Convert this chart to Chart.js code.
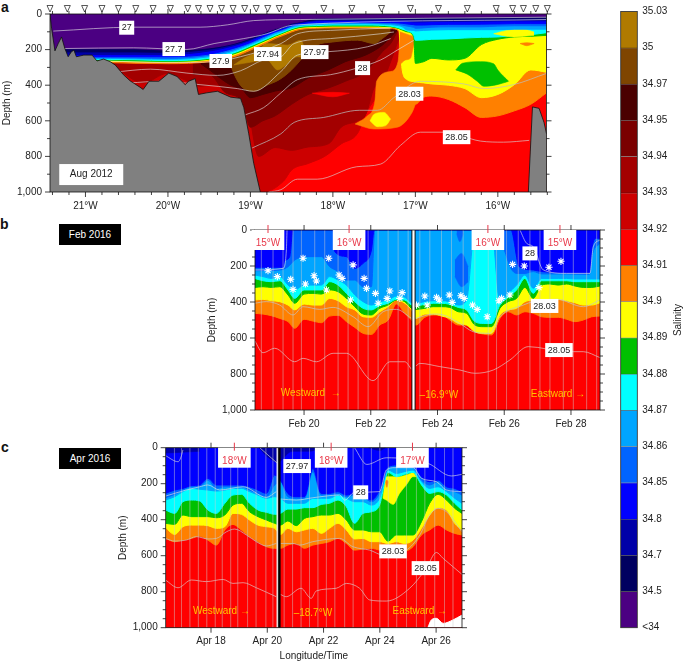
<!DOCTYPE html>
<html><head><meta charset="utf-8">
<script src="https://cdn.jsdelivr.net/npm/chart.js@4"></script>
<style>
html,body{margin:0;padding:0;background:#fff;width:685px;height:662px;overflow:hidden}
canvas{position:absolute}
.t{position:absolute;font-family:"Liberation Sans",Arial,sans-serif}
.l{font-weight:bold;font-size:14px;color:#111;line-height:14px}
.k{background:#000;color:#fff;font-size:10px;text-align:center;line-height:21px;width:62px;height:21px}
</style></head><body>
<div class="t l" style="left:1px;top:0">a</div>
<div class="t l" style="left:0;top:217px">b</div>
<div class="t l" style="left:1px;top:440px">c</div>
<div class="t k" style="left:59px;top:224px">Feb 2016</div>
<div class="t k" style="left:59px;top:448px">Apr 2016</div>
<canvas id="ca"></canvas><canvas id="cb"></canvas><canvas id="cc"></canvas><canvas id="cs"></canvas>
<script>
// ---------- colour key
const salinityLabels=["35.03","35","34.97","34.95","34.94","34.93","34.92","34.91","34.9","34.89","34.88","34.87","34.86","34.85","34.8","34.7","34.5","<34"];
const C={gold:"#B07A00",brown:"#7F4500",d1:"#4A0000",d2:"#7A0000",d3:"#A30000",d4:"#CC0000",red:"#FF0000",orange:"#FF8000",yellow:"#FFFF00",green:"#00C000",cyan:"#00FFFF",lblue:"#00A5FF",mblue:"#0064FF",blue:"#0000FF",navy:"#0000A8",dark:"#000060",purple:"#4B0082"};
const bandColors=[C.gold,C.brown,C.d1,C.d2,C.d3,C.d4,C.red,C.orange,C.yellow,C.green,C.cyan,C.lblue,C.mblue,C.blue,C.navy,C.dark,C.purple];

// ---------- panel a: longitude (negative = W), depth (m)
const stationsA=[-21.43,-21.22,-21.01,-20.8,-20.6,-20.39,-20.18,-19.97,-19.76,-19.63,-19.49,-19.35,-19.21,-19.07,-18.93,-18.79,-18.65,-18.45,-18.11,-17.77,-17.41,-17.06,-16.72,-16.37,-16.02,-15.82,-15.69,-15.54,-15.4];
const lonA=[-21.43,-21,-20.7,-20.4,-20,-19.5,-19.2,-19,-18.85,-18.7,-18.6,-18.5,-18.4,-18.2,-18,-17.6,-17.3,-17.2,-17.16,-17.1,-17.02,-17,-16.9,-16.8,-16.6,-16.4,-16.2,-16,-15.8,-15.6,-15.41];
const aOrange=[272,272,273,277,279,268,240,203,172,138,120,101,87,80,78,78,82,95,489,489,500,507,467,461,480,526,581,572,544,507,443];
const aYellow=[265,265,265,268,270,258,230,193,162,129,111,92,80,74,72,72,76,88,314,369,380,382,387,393,400,419,470,452,397,314,327];
const aGreen=[261,261,261,264,266,254,224,187,156,125,107,88,76,70,68,68,72,82,90,100,130,277,268,249,258,249,172,142,129,125,120];
const aCyan=[255,255,255,257,262,249,218,180,150,120,102,83,70,65,62,62,68,78,85,95,120,148,146,142,140,135,131,129,120,116,105];
const aLBlue=[250,250,250,252,255,240,208,172,142,111,95,76,65,58,56,55,60,66,72,90,92,95,92,90,88,88,88,88,85,85,85];
const aMBlue=[245,245,245,247,250,232,200,165,135,102,88,68,60,52,50,50,54,58,62,68,75,80,78,74,72,72,72,68,66,66,66];
const aBlue=[240,240,240,240,240,225,192,160,128,100,84,66,56,48,46,46,48,50,52,56,60,62,62,60,58,58,57,56,54,54,54];
const aNavy=[228,228,228,228,228,208,178,148,118,92,78,60,50,38,36,36,37,38,38,40,44,44,44,42,41,41,40,39,38,38,38];
const aDark=[213,213,213,213,215,198,170,142,112,88,74,56,46,32,28,28,28,28,28,29,30,30,30,30,29,29,28,28,27,27,27];
const aPurple=[195,195,195,195,203,190,165,135,108,83,70,52,44,24,22,22,20,20,20,20,20,20,20,19,19,18,18,17,16,16,15];
// deep saline core
const a3492x=[-21.43,-18.85,-18.6,-18.5,-18.3,-18.1,-17.9,-17.7,-17.6,-17.4,-17.3,-17.2,-17.19];
const a3492y=[1000,1000,940,876,840,800,730,670,560,415,323,268,100];
const a3493x=[-20.75,-20.5,-20.3,-20,-19.8,-19.6,-19.5,-19.05,-18.9,-18.7,-18.5,-18.3,-18.05,-17.9,-17.7,-17.6,-17.5,-17.4,-17.3,-17.2];
const a3493y=[250,345,387,332,369,406,400,500,800,750,766,747,728,636,600,563,415,378,268,138];
const a3494x=[-19.7,-19.5,-19.3,-19.1,-19,-18.85,-18.7,-18.5,-18.3,-18.05,-17.85,-17.6,-17.4,-17.3,-17.22];
const a3494y=[340,340,443,490,636,600,572,507,452,415,378,323,212,166,100];
const a3495x=[-19.6,-19.5,-19.25,-19.1,-19,-18.85,-18.7,-18.5,-18.3,-18.05,-17.85,-17.6,-17.4,-17.3,-17.22];
const a3495y=[280,313,397,424,470,452,433,415,360,313,268,230,175,129,92];
const a3497x=[-19.28,-19.23,-19.1,-18.95,-18.8,-18.65,-18.5,-18.3,-18.2,-18,-17.7,-17.5,-17.4,-17.3];
const a3497y=[220,300,411,433,400,369,314,212,175,157,147,166,138,101];
const aGoldTopX=[-19.2,-19.08,-18.92,-18.8,-18.55,-18.39,-18.31], aGoldTopY=[286,249,212,166,175,148,249];
const aGoldBotX=[-19.2,-18.96,-18.8,-18.67,-18.59,-18.43,-18.31], aGoldBotY=[286,268,258,314,295,240,249];
const aStreakTopX=[-18.25,-18,-17.8], aStreakTopY=[445,440,445], aStreakBotY=[445,465,445];
const aLobeTopX=[-17.73,-17.58,-17.49,-17.47,-17.3,-17.21,-17.18,-17.1,-17], aLobeTopY=[618,572,489,378,323,268,120,111,120];
const aLobeBotX=[-17.73,-17.5,-17.22,-17.04,-17], aLobeBotY=[618,646,636,553,507];
const aLensTopX=[-17.55,-17.5,-17.38,-17.3], aLensTopY=[600,563,553,590];
const aLensBotX=[-17.55,-17.46,-17.36,-17.3], aLensBotY=[600,633,627,590];
const aCapTopX=[-17.19,-17], aCapTopY=[100,130];
const aCapBotX=[-17.19,-17.12,-17.06,-17.02,-17], aCapBotY=[286,258,249,175,148];
const aGreenTopX=[-16.51,-16.43,-16.21,-16.05,-16,-15.87], aGreenTopY=[314,277,268,280,315,378];
const aGreenBotX=[-16.51,-16.37,-16.25,-16.17,-16.01,-15.87], aGreenBotY=[314,338,378,406,397,378];
const aPatchTopX=[-16.05,-15.89,-15.68,-15.56], aPatchTopY=[111,92,87,101];
const aPatchBotX=[-16.05,-15.81,-15.56], aPatchBotY=[111,129,120];
const aSpotX=[-15.73,-15.65,-15.56], aSpotTopY=[166,161,166], aSpotBotY=[166,178,166];
const bathyWX=[-21.43,-21.41,-21.37,-21.33,-21.29,-21.25,-21.21,-21.17,-21.14,-21.11,-21.02,-20.92,-20.86,-20.78,-20.7,-20.64,-20.54,-20.46,-20.34,-20.3,-20.23,-20.11,-19.99,-19.89,-19.79,-19.75,-19.67,-19.63,-19.53,-19.4,-19.24,-19.12,-19.08,-19.02,-18.96,-18.88];
const bathyWY=[0,83,207,166,129,194,240,212,203,240,231,231,264,253,268,286,341,375,411,424,378,378,332,351,397,378,363,452,443,434,467,474,526,673,839,1000];
const bathyEX=[-15.63,-15.6,-15.58,-15.5,-15.44,-15.41], bathyEY=[1000,710,522,530,609,673];
const aC27X=[-21.39,-20.42,-19.61,-19.28,-18.96,-18.39,-15.4], aC27Y=[96,74,74,61,37,31,18];
const aC277X=[-21.27,-20.42,-19.77,-19.44,-19.08,-18.8,-18.55,-18.43,-15.4], aC277Y=[194,190,199,166,138,111,68,61,31];
const aC279X=[-20.74,-20.01,-19.44,-19.12,-18.63,-18.43,-18.03,-17.3], aC279Y=[264,273,268,240,166,111,92,79];
const aC2794X=[-20.66,-20.21,-19.77,-19.4,-19.12,-18.84,-18.63,-18.47,-18.03,-17.42,-17.26], aC2794Y=[327,310,332,345,319,258,240,166,138,111,101];
const aC2797X=[-20.46,-20.09,-19.61,-19.16,-18.96,-18.63,-18.43,-18.07,-17.58,-17.3], aC2797Y=[387,378,397,419,434,323,231,212,184,138];
const aC28X=[-19.06,-18.84,-18.63,-18.43,-18.03,-17.71,-17.42,-17.22,-17.02], aC28Y=[566,526,443,369,341,304,258,203,148];
const aC2803X=[-18.98,-18.63,-18.47,-18.11,-17.68,-17.46,-17.26,-16.94,-16.41,-16.17,-15.81,-15.4], aC2803Y=[753,673,609,581,541,541,470,378,393,419,397,332];
const aC2805X=[-18.78,-18.63,-18.43,-18.19,-17.71,-17.42,-17.18,-16.94,-16.65,-16.21,-15.93,-15.62], aC2805Y=[1000,987,928,928,858,843,738,664,664,714,720,710];

// ---------- panel b: day of Feb 2016, depth (m)
const daysB=[18.52,18.77,19.02,19.27,19.52,19.72,20,20.27,20.52,20.77,21.02,21.27,21.52,21.77,22.02,22.27,22.52,22.77,23.02,23.22,23.35,23.62,23.87,24.12,24.37,24.62,24.87,25.12,25.37,25.62,25.87,26.12,26.37,26.62,26.87,27.12,27.37,27.62,27.87,28.12,28.37,28.62,28.87];
const bOrange=[463,467,476,491,509,546,496,506,515,478,474,509,541,574,580,528,500,411,463,500,528,485,472,472,500,528,528,565,578,583,491,454,472,454,463,482,485,485,496,509,500,482,478];
const bYellow=[389,385,393,398,417,444,411,417,417,380,393,426,444,482,485,454,426,389,407,444,491,467,467,478,491,519,528,565,574,574,472,444,435,398,389,385,385,385,393,404,417,417,404];
const bGreen=[319,315,319,315,361,407,356,352,356,333,343,380,426,467,472,435,417,389,398,435,441,435,426,426,430,454,463,528,537,537,435,398,380,319,380,306,300,306,300,311,319,319,311];
const bCyan=[269,282,287,282,333,380,333,333,333,287,306,352,398,435,444,420,407,385,389,417,422,413,407,407,413,430,444,509,519,519,417,374,333,269,352,282,282,282,282,287,287,287,287];
const bLBlue=[250,259,269,259,306,333,306,306,306,259,278,306,361,398,417,398,389,367,374,404,407,398,393,393,398,417,389,0,0,0,398,352,306,250,324,269,269,269,269,272,272,272,272];
const bMBlueX=[18.52,19.27,19.52,19.72,20,20.52,20.77,21.02,21.27,21.52,21.77,22.02,22.12,25.77,26,26.2,26.37,26.62,26.87,27.12,27.87,28.55,28.65,28.87];
const bMBlueY=[226,222,204,167,148,148,204,231,278,278,315,315,0,0,110,213,241,241,231,244,244,246,130,74];
const bBlueX=[18.52,19.37,19.42,19.57,19.67,20.87,20.92,21.27,21.52,21.77,22.02,22.1,26.2,26.45,26.87,27.12,28.55,28.62,28.75,28.87];
const bBlueY=[207,207,172,148,0,0,120,148,213,185,111,0,0,204,222,231,238,110,46,46];
const bPatchX=[24.52,24.72,24.92], bPatchTopY=[167,130,204], bPatchBotY=[259,315,287];
const bPatch2X=[24.57,24.67,24.77], bPatch2TopY=[0,0,0], bPatch2BotY=[20,65,20];
const starsBX=[18.92,19.2,19.6,19.67,19.97,20.04,20.3,20.37,20.74,20.67,21.05,21.14,21.39,21.47,21.8,21.87,22.14,22.22,22.49,22.57,22.87,22.94,23.37,23.62,23.69,23.97,24.05,24.35,24.44,24.7,24.8,25.05,25.19,25.49,25.84,25.92,26.17,26.25,26.6,27.04,27.34,27.7];
const starsBY=[226,259,274,330,157,300,254,283,157,333,250,269,389,194,269,324,352,407,380,339,380,348,417,367,417,374,389,361,402,365,380,417,441,482,393,380,361,191,200,320,207,174];
const stationsB=[18.72,19.07,19.37,19.67,19.92,20.32,20.62,21.02,21.32,21.62,21.92,22.22,22.52,22.82,23.12,23.47,23.77,24.12,24.42,24.77,25.12,25.52,25.77,26.07,26.42,26.77,27.07,27.37,27.77,28.07,28.47,28.77];
const bC28aX=[18.52,19.37,19.47,19.49], bC28aY=[222,213,111,0];
const bC28bX=[26.47,26.67,26.87,27.17,27.87,28.57,28.67,28.87], bC28bY=[0,74,93,222,241,241,93,56];
const bC2803aX=[18.52,18.87,19.27,19.67,19.97,20.47,20.87,21.47,21.92,22.37,22.77,23.22], bC2803aY=[407,398,417,472,426,441,430,482,537,454,441,491];
const bC2803bX=[23.35,23.87,24.17,24.67,25.07,25.57,25.87,26.57,26.87,27.57,28.37,28.87], bC2803bY=[491,467,472,519,565,574,482,417,398,385,426,389];
const bC2805aX=[18.52,18.77,19.12,19.72,19.97,20.37,20.87,21.27,22.07,22.57,23.02,23.22], bC2805aY=[615,682,657,732,713,732,685,685,837,732,732,774];
const bC2805bX=[23.35,23.47,24.07,24.67,25.12,25.67,26.17,26.72,27.87,28.37,28.87], bC2805bY=[756,741,759,778,796,778,722,648,676,676,709];

// ---------- panel c: day of Apr 2016, depth (m)
const daysC=[16.38,16.71,17,17.3,17.6,17.89,18.19,18.49,18.78,19.08,19.37,19.67,19.97,20.26,20.47,20.73,21.03,21.32,21.62,21.92,22.21,22.51,22.81,23.1,23.4,23.7,23.99,24.29,24.59,24.88,25.18,25.48,25.77,26.07,26.37,26.66,26.92];
const cOrange=[504,522,513,504,491,513,541,457,426,457,494,522,550,559,559,541,532,559,541,532,522,504,532,569,563,559,569,578,587,578,550,485,457,430,457,476,485];
const cYellow=[444,482,439,430,430,433,448,439,365,370,402,430,439,448,482,448,467,457,448,476,448,420,457,507,504,522,522,532,522,532,513,448,374,333,346,420,457];
const cGreen=[420,426,374,383,383,383,389,374,319,309,356,383,402,420,430,407,433,393,383,374,374,365,402,457,457,467,467,519,485,485,485,411,309,259,291,337,365];
const cCyan=[346,365,300,291,296,346,365,309,263,259,309,346,359,370,365,341,341,333,333,315,309,291,328,420,365,356,319,137,161,148,137,207,254,244,263,309,346];
const cLBlue=[291,272,244,226,231,235,241,235,226,226,244,263,281,272,281,309,309,309,281,281,281,263,281,300,300,319,281,124,143,133,124,189,226,217,244,281,309];
const cMBlue=[278,259,235,217,217,180,226,217,217,217,235,254,272,207,189,272,281,281,133,263,263,254,272,263,272,300,254,115,106,106,111,180,207,189,235,244,263];
const cBlue=[254,235,226,211,207,170,207,207,207,207,217,235,254,152,180,254,272,272,115,254,254,244,263,254,263,291,235,106,96,93,96,161,189,180,217,226,244];
const cNavy1X=[16.38,17,17.6], cNavy1Y=[30,25,20];
const cNavy2X=[19.7,20,20.36], cNavy2Y=[0,50,85];
const cNavy3X=[20.4,20.9,21.5,21.9], cNavy3Y=[85,20,20,0];
const cNavy4X=[23.6,24,24.2], cNavy4Y=[0,15,0];
const cLensTopX=[24.11,24.23,24.47,24.7,24.94,25.18,25.3], cLensTopY=[281,161,161,161,152,139,161];
const cLensBotY=[281,291,315,254,207,161,161];
const cSpotX=[24.2,24.25,24.3], cSpotTopY=[190,180,190], cSpotBotY=[190,220,190];
const stationsC=[16.7,16.95,17.25,17.55,17.85,18.15,18.4,18.7,18.95,19.3,19.6,19.95,20.2,20.6,20.9,21.2,21.5,21.8,22.1,22.4,22.75,23.05,23.4,23.7,24,24.3,24.6,24.95,25.3,25.6,25.95,26.3,26.6];
const cC28aX=[16.38,17.12,17.6,17.89,18.31,19.14,19.97,20.32], cC28aY=[269,235,217,207,235,217,276,244];
const cC28bX=[20.47,21.03,21.62,22.57,22.75,23.1,23.99,24.23,24.53,25.18,25.48,26.01,26.37,26.92], cC28bY=[285,291,278,263,291,248,244,124,111,111,170,189,235,244];
const cC2797aX=[16.38,16.83,16.95,17], cC2797aY=[44,78,44,13];
const cC2797bX=[19.73,20.36], cC2797bY=[0,87];
const cC2797cX=[23.1,23.54,24.23,25.71,26.54,26.92], cC2797cY=[0,93,56,87,157,148];
const cC2803aX=[16.38,16.71,17.12,17.48,17.89,18.19,18.55,18.84,19.26,19.61,19.97,20.32], cC2803aY=[504,519,513,494,507,504,467,452,485,522,546,532];
const cC2803bX=[20.47,20.91,21.15,21.62,22.57,23.04,23.64,24.11,24.94,25.42,25.77,26.07,26.37,26.92], cC2803bY=[532,532,541,522,504,550,569,596,569,485,374,337,356,467];
const cC2805aX=[16.38,16.83,17.3,17.83,18.43,18.78,19.14,19.61,20.32], cC2805aY=[735,778,735,744,732,754,750,778,828];
const cC2805bX=[20.47,20.67,21.2,21.56,21.74,22.45,22.81,23.28,23.64,24.23,25.06,25.65,26.01,26.25,26.92], cC2805bY=[815,828,781,837,796,781,754,781,846,852,781,670,582,615,704];
const cBlankX=[25.71,25.83,26.01,26.25,26.6,26.92], cBlankY=[998,957,948,976,957,930];

// ---------- helpers
const FONT='"Liberation Sans",Arial,sans-serif', INK='#222';
const pts=(xs,ys)=>xs.map((x,i)=>({x,y:ys[i]}));
const band=(xs,ys,c,target=0)=>({data:pts(xs,ys),fill:{target:{value:target}},backgroundColor:c,borderColor:c,borderWidth:1,cubicInterpolationMode:'monotone',pointRadius:0});
const blob=(xt,yt,xb,yb,c)=>[{data:pts(xt,yt),fill:'+1',backgroundColor:c,borderColor:c,borderWidth:.6,cubicInterpolationMode:'monotone',pointRadius:0},
  {data:pts(xb,yb),fill:false,borderColor:c,borderWidth:.6,cubicInterpolationMode:'monotone',pointRadius:0}];
const contour=(xs,ys,col='rgba(228,228,228,.78)')=>({data:pts(xs,ys),fill:false,borderColor:col,borderWidth:.8,cubicInterpolationMode:'monotone',pointRadius:0});
const vbar=(x,c,w)=>({data:[{x,y:0},{x,y:1000}],fill:false,borderColor:c,borderWidth:w,pointRadius:0});
const stationLines=xs=>({data:xs.flatMap(x=>[{x,y:0},{x,y:1000},{x,y:NaN}]),fill:false,borderColor:'rgba(205,205,205,.24)',borderWidth:.8,pointRadius:0,spanGaps:false});
function withOrder(list){return list.map((d,i)=>({...d,order:list.length-i}));}

const overlay={id:'overlay',afterDatasetsDraw(ch,_,o){
  const {ctx,chartArea:A,scales:{x,y}}=ch; ctx.save();
  ctx.strokeStyle='#111';ctx.lineWidth=.8;
  ctx.strokeRect(A.left,A.top,A.right-A.left,A.bottom-A.top);
  ctx.beginPath();
  (o.xTicks||[]).forEach(([v,len])=>{const p=x.getPixelForValue(v);ctx.moveTo(p,A.bottom);ctx.lineTo(p,A.bottom+len);ctx.moveTo(p,A.top);ctx.lineTo(p,A.top-len);});
  (o.yTicks||[]).forEach(([v,len])=>{const p=y.getPixelForValue(v);ctx.moveTo(A.left,p);ctx.lineTo(A.left-len,p);ctx.moveTo(A.right,p);ctx.lineTo(A.right+len,p);});
  ctx.stroke();
  (o.triangles||[]).forEach(v=>{const p=x.getPixelForValue(v),t=A.top-8.5;ctx.beginPath();ctx.moveTo(p-3,t);ctx.lineTo(p+3,t);ctx.lineTo(p,t+6.5);ctx.closePath();ctx.fillStyle='#fff';ctx.fill();ctx.lineWidth=.7;ctx.stroke();});
  ctx.textAlign='center';ctx.textBaseline='middle';
  (o.tagBoxes||[]).forEach(([v,d,txt])=>{const px=x.getPixelForValue(v),py=y.getPixelForValue(d);ctx.fillStyle='#fff';ctx.fillRect(px-32,py-10.5,64,21);ctx.fillStyle=INK;ctx.font='10px '+FONT;ctx.fillText(txt,px,py);});
  (o.labels||[]).forEach(([v,d,txt])=>{ctx.font='9px '+FONT;const w=ctx.measureText(txt).width+5,px=x.getPixelForValue(v),py=y.getPixelForValue(d);ctx.fillStyle='#fff';ctx.fillRect(px-w/2,py-7,w,14);ctx.fillStyle=INK;ctx.fillText(txt,px,py+.3);});
  (o.lonTags||[]).forEach(([v,d,txt])=>{const px=x.getPixelForValue(v),py=y.getPixelForValue(d);ctx.fillStyle='#fff';ctx.fillRect(px-16.3,A.top,32.6,20);ctx.strokeStyle='#e8394a';ctx.lineWidth=1;ctx.beginPath();ctx.moveTo(px,A.top-5);ctx.lineTo(px,A.top+3);ctx.stroke();ctx.fillStyle='#e8394a';ctx.font='10px '+FONT;ctx.fillText(txt,px,py+3);});
  (o.notes||[]).forEach(([v,d,txt])=>{ctx.fillStyle='#FFC400';ctx.font='10px '+FONT;ctx.fillText(txt,x.getPixelForValue(v),y.getPixelForValue(d));});
  ctx.restore();
}};

function panel(id,box,plot,datasets,xOpt,yMinorStep,over,xTitle){
  const c=document.getElementById(id);
  c.style.left=box.l+'px';c.style.top=box.t+'px';c.width=box.w;c.height=box.h;
  const yTicks=[];for(let v=0;v<=1000;v+=yMinorStep)yTicks.push([v,v%200===0?5:3]);
  return new Chart(c,{type:'line',plugins:[overlay],data:{datasets:withOrder(datasets)},options:{
    responsive:false,animation:false,devicePixelRatio:1,
    layout:{padding:{left:0,right:box.l+box.w-plot.r,top:plot.t-box.t,bottom:0}},
    events:[],
    plugins:{legend:{display:false},tooltip:{enabled:false},overlay:{...over,yTicks}},
    scales:{
      x:{type:'linear',min:xOpt.min,max:xOpt.max,grid:{display:false,drawTicks:false},border:{display:false},
        afterFit(s){s.height=box.t+box.h-plot.b;},
        title:xTitle?{display:true,text:xTitle,color:INK,font:{family:FONT,size:10,lineHeight:1.1},padding:0}:{display:false},
        ticks:{stepSize:xOpt.step,includeBounds:false,autoSkip:false,maxRotation:0,padding:8,color:INK,font:{family:FONT,size:10},callback:xOpt.fmt}},
      y:{type:'linear',reverse:true,min:0,max:1000,grid:{display:false,drawTicks:false},border:{display:false},
        afterFit(s){s.width=plot.l-box.l;},
        title:{display:true,text:'Depth (m)',color:INK,font:{family:FONT,size:10,lineHeight:1.2},padding:{top:1,bottom:0}},
        ticks:{stepSize:200,padding:8,color:INK,font:{family:FONT,size:10},includeBounds:false}}
    }}});
}

// ---------- panel a
const aX={min:-21.43,max:-15.41,step:1,fmt:v=>Math.abs(v)+'°W'};
const aDs=[
  band([-21.43,-15.41],[1000,1000],C.red),
  band(a3492x,a3492y,C.d4),band(a3493x,a3493y,C.d3),band(a3494x,a3494y,C.d2),band(a3495x,a3495y,C.d1),band(a3497x,a3497y,C.brown),
  ...blob(aGoldTopX,aGoldTopY,aGoldBotX,aGoldBotY,C.gold),
  ...blob(aStreakTopX,aStreakTopY,aStreakTopX,aStreakBotY,C.red),
  band(lonA,aOrange,C.orange),
  ...blob(aLobeTopX,aLobeTopY,aLobeBotX,aLobeBotY,C.orange),
  ...blob(aLensTopX,aLensTopY,aLensBotX,aLensBotY,C.yellow),
  band(lonA,aYellow,C.yellow),
  ...blob(aCapTopX,aCapTopY,aCapBotX,aCapBotY,C.orange),
  ...blob(aSpotX,aSpotTopY,aSpotX,aSpotBotY,C.orange),
  band(lonA,aGreen,C.green),
  ...blob(aGreenTopX,aGreenTopY,aGreenBotX,aGreenBotY,C.green),
  band(lonA,aCyan,C.cyan),
  ...blob(aPatchTopX,aPatchTopY,aPatchBotX,aPatchBotY,C.yellow),
  band(lonA,aLBlue,C.lblue),band(lonA,aMBlue,C.mblue),band(lonA,aBlue,C.blue),band(lonA,aNavy,C.navy),band(lonA,aDark,C.dark),band(lonA,aPurple,C.purple),
  contour(aC27X,aC27Y),contour(aC277X,aC277Y),contour(aC279X,aC279Y),contour(aC2794X,aC2794Y),contour(aC2797X,aC2797Y),contour(aC28X,aC28Y),contour(aC2803X,aC2803Y,'rgba(190,190,190,.9)'),contour(aC2805X,aC2805Y,'rgba(220,190,190,.9)'),
  {data:pts(bathyWX,bathyWY),fill:{target:{value:1000}},backgroundColor:'#808080',borderColor:'#111',borderWidth:.8,pointRadius:0},
  {data:pts(bathyEX,bathyEY),fill:{target:{value:1000}},backgroundColor:'#808080',borderColor:'#111',borderWidth:.8,pointRadius:0}
];
const aXTicks=[];for(let v=-21.4;v<=-15.4;v+=.2){const r=Math.round(v*10)/10;aXTicks.push([r,Number.isInteger(r)?5:3]);}
panel('ca',{l:0,t:0,w:570,h:212},{l:50,r:546.5,t:11.5,b:192},aDs,aX,100,{
  xTicks:aXTicks,triangles:stationsA,
  labels:[[-20.5,77,'27'],[-19.93,197,'27.7'],[-19.36,264,'27.9'],[-18.79,225,'27.94'],[-18.22,214,'27.97'],[-17.64,304,'28'],[-17.07,448,'28.03'],[-16.5,692,'28.05']],
  tagBoxes:[[-20.93,902,'Aug 2012']]});

// ---------- panel b
const bX={min:18.53,max:28.87,step:2,fmt:v=>'Feb '+v};
const bDs=[
  band([18.53,28.87],[1000,1000],C.red),
  band(daysB,bOrange,C.orange),band(daysB,bYellow,C.yellow),band(daysB,bGreen,C.green),band(daysB,bCyan,C.cyan),band(daysB,bLBlue,C.lblue),
  band(bMBlueX,bMBlueY,C.mblue),
  ...blob(bPatchX,bPatchTopY,bPatchX,bPatchBotY,C.mblue),...blob(bPatch2X,bPatch2TopY,bPatch2X,bPatch2BotY,C.mblue),
  band(bBlueX,bBlueY,C.blue),
  stationLines(stationsB),
  contour(bC28aX,bC28aY),contour(bC28bX,bC28bY),contour(bC2803aX,bC2803aY,'rgba(195,195,195,.9)'),contour(bC2803bX,bC2803bY,'rgba(195,195,195,.9)'),contour(bC2805aX,bC2805aY,'rgba(225,190,190,.9)'),contour(bC2805bX,bC2805bY,'rgba(225,190,190,.9)'),
  {data:pts(starsBX,starsBY),showLine:false,fill:false,pointStyle:'star',pointRadius:3.6,pointBorderColor:'#fff',pointBorderWidth:1.1,borderColor:'#fff'},
  vbar(23.28,'#111',4.2),vbar(23.28,'#fff',2.2)
];
panel('cb',{l:205,t:212,w:412,h:222},{l:255,r:600,t:230,b:410},bDs,bX,50,{
  xTicks:[20,22,24,26,28].map(v=>[v,5]),
  lonTags:[[18.92,55,'15°W'],[21.35,55,'16°W'],[25.51,55,'16°W'],[27.67,55,'15°W']],
  labels:[[26.77,130,'28'],[27.21,422,'28.03'],[27.64,667,'28.05']],
  notes:[[20.2,907,'Westward  →'],[24.04,917,'–16.9°W'],[27.61,911,'Eastward →']]});

// ---------- panel c
const cX={min:16.39,max:26.92,step:2,fmt:v=>'Apr '+v};
const cDs=[
  band([16.39,26.92],[1000,1000],C.red),
  band(daysC,cOrange,C.orange),band(daysC,cYellow,C.yellow),band(daysC,cGreen,C.green),
  ...blob(cLensTopX,cLensTopY,cLensTopX,cLensBotY,C.yellow),
  ...blob(cSpotX,cSpotTopY,cSpotX,cSpotBotY,C.orange),
  band(daysC,cCyan,C.cyan),band(daysC,cLBlue,C.lblue),band(daysC,cMBlue,C.mblue),band(daysC,cBlue,C.blue),
  ...blob(cNavy1X,[0,0,0],cNavy1X,cNavy1Y,C.navy),...blob(cNavy2X,[0,0,0],cNavy2X,cNavy2Y,C.navy),...blob(cNavy3X,[0,0,0,0],cNavy3X,cNavy3Y,C.navy),...blob(cNavy4X,[0,0,0],cNavy4X,cNavy4Y,C.navy),
  band(cBlankX,cBlankY,'#fff',1000),
  stationLines(stationsC),
  contour(cC28aX,cC28aY),contour(cC28bX,cC28bY),contour(cC2797aX,cC2797aY),contour(cC2797bX,cC2797bY),contour(cC2797cX,cC2797cY),
  contour(cC2803aX,cC2803aY,'rgba(195,195,195,.9)'),contour(cC2803bX,cC2803bY,'rgba(195,195,195,.9)'),contour(cC2805aX,cC2805aY,'rgba(225,190,190,.9)'),contour(cC2805bX,cC2805bY,'rgba(225,190,190,.9)'),
  vbar(20.37,'#ddd',2.4),vbar(20.43,'#000',2.4)
];
panel('cc',{l:116,t:432,w:360,h:230},{l:165.7,r:462,t:447.7,b:627.7},cDs,cX,50,{
  xTicks:[18,20,22,24,26].map(v=>[v,5]),
  lonTags:[[18.83,59,'18°W'],[22.27,59,'18°W'],[25.16,59,'17°W']],
  labels:[[21.06,102,'27.97'],[23.32,248,'28'],[24.47,576,'28.03'],[25.62,669,'28.05']],
  notes:[[18.37,911,'Westward →'],[21.62,920,'–18.7°W'],[25.42,907,'Eastward →']]},'Longitude/Time');

// ---------- colour bar
const bandWidths=bandColors.map(()=>1);
(function(){
  const c=document.getElementById('cs');c.style.left='610px';c.style.top='0';c.width=75;c.height=662;
  const order=[...bandColors].reverse();
  const bandTitle={id:'bandTitle',afterDraw(ch){const {ctx,chartArea:A}=ch;ctx.save();ctx.strokeStyle='#222';ctx.lineWidth=.8;ctx.strokeRect(A.left,A.top,A.right-A.left,A.bottom-A.top);ctx.translate(68,320);ctx.rotate(-Math.PI/2);ctx.textAlign='center';ctx.textBaseline='middle';ctx.fillStyle=INK;ctx.font='10px '+FONT;ctx.fillText('Salinity',0,0);ctx.restore();}};
  new Chart(c,{type:'bar',plugins:[bandTitle],data:{labels:[''],datasets:order.map((col,i)=>({data:[bandWidths[i]],backgroundColor:col,borderColor:'rgba(20,20,20,.6)',borderWidth:{top:.8,bottom:0,left:0,right:0},barPercentage:1,categoryPercentage:1}))},
   options:{responsive:false,animation:false,devicePixelRatio:1,events:[],
    layout:{padding:{left:10.7,right:0,top:11.5,bottom:34.3}},
    plugins:{legend:{display:false},tooltip:{enabled:false}},
    scales:{x:{display:false,stacked:true},
      y:{stacked:true,position:'right',min:0,max:17,grid:{display:false,drawTicks:false},border:{display:false},afterFit(s){s.width=47.7;},
        ticks:{stepSize:1,autoSkip:false,padding:5,color:INK,font:{family:FONT,size:10},callback:v=>salinityLabels[17-v]}}}}});
})();
</script></body></html>
